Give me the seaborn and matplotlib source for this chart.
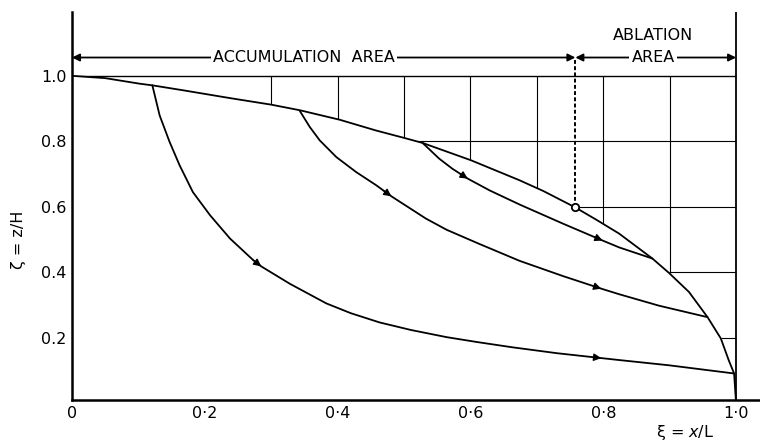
import numpy as np
import pandas as pd
import matplotlib
matplotlib.use("Agg")
import matplotlib.pyplot as plt
import seaborn as sns

# ice surface profile (xi = x/L, zeta = z/H)
surface_x = [0.0, 0.05, 0.102, 0.121, 0.167, 0.238, 0.30, 0.343, 0.403, 0.458, 0.501, 0.528,
             0.601, 0.674, 0.71, 0.758, 0.79, 0.824, 0.874, 0.899, 0.929, 0.957, 0.977,
             0.989, 0.997, 0.999, 1.0]
surface_y = [1.0, 0.993, 0.976, 0.971, 0.956, 0.932, 0.912, 0.895, 0.866, 0.833, 0.810, 0.795,
             0.742, 0.681, 0.648, 0.598, 0.56, 0.518, 0.442, 0.398, 0.340, 0.263, 0.198,
             0.131, 0.091, 0.03, 0.0]

# flow lines
flowA_x = [0.121, 0.132, 0.147, 0.162, 0.182, 0.208, 0.238, 0.273, 0.285, 0.328, 0.383,
           0.42, 0.463, 0.51, 0.564, 0.61, 0.663, 0.73, 0.797, 0.824, 0.899, 0.997]
flowA_y = [0.971, 0.879, 0.798, 0.727, 0.645, 0.574, 0.503, 0.437, 0.418, 0.365, 0.305,
           0.275, 0.247, 0.224, 0.202, 0.187, 0.171, 0.153, 0.138, 0.132, 0.116, 0.091]
flowB_x = [0.343, 0.358, 0.373, 0.398, 0.428, 0.458, 0.481, 0.533, 0.564, 0.613, 0.674,
           0.74, 0.797, 0.824, 0.884, 0.957]
flowB_y = [0.893, 0.844, 0.803, 0.752, 0.706, 0.666, 0.632, 0.564, 0.530, 0.487, 0.435,
           0.388, 0.350, 0.333, 0.298, 0.263]
flowC_x = [0.528, 0.553, 0.573, 0.596, 0.629, 0.674, 0.74, 0.799, 0.824, 0.874]
flowC_y = [0.795, 0.747, 0.716, 0.686, 0.650, 0.607, 0.548, 0.497, 0.476, 0.442]

# arrowheads along each flow line (xi positions)
arrowsA = [0.285, 0.797]
arrowsB = [0.481, 0.797]
arrowsC = [0.596, 0.799]

# equilibrium line
ela_x = 0.758
ela_y = 0.598

grid_x = [0.3, 0.4, 0.5, 0.6, 0.7, 0.8, 0.9]
grid_y = [0.2, 0.4, 0.6, 0.8]

xticks = [0.0, 0.2, 0.4, 0.6, 0.8, 1.0]
xticklabels = ["0", "0·2", "0·4", "0·6", "0·8", "1·0"]
yticks = [0.2, 0.4, 0.6, 0.8, 1.0]
yticklabels = ["0.2", "0.4", "0.6", "0.8", "1.0"]

sns.set_style("white")
plt.rcParams["font.family"] = ["DejaVu Sans"]
plt.rcParams["text.color"] = "black"
plt.rcParams["xtick.color"] = "black"
plt.rcParams["ytick.color"] = "black"

fig = plt.figure(figsize=(7.6, 4.41), dpi=100)
ax = fig.add_axes([72 / 760, 41 / 441, 688 / 760, 388 / 441])

# grid above the surface (masked below by white fill)
ax.vlines(grid_x, 0, 1.0, color="black", lw=0.8, zorder=1)
ax.hlines(grid_y, 0, 1.0, color="black", lw=0.8, zorder=1)
ax.hlines(1.0, 0, 1.0, color="black", lw=1.0, zorder=1)
ax.fill_between(surface_x, 0, surface_y, color="white", zorder=2)
ax.axvline(1.0, color="black", lw=1.3, zorder=3)

# surface and flow lines
surf = pd.DataFrame({"x": surface_x, "y": surface_y})
sns.lineplot(data=surf, x="x", y="y", sort=False, estimator=None, color="black", lw=1.3, ax=ax, zorder=4)
for fx, fy, arr in [(flowA_x, flowA_y, arrowsA), (flowB_x, flowB_y, arrowsB), (flowC_x, flowC_y, arrowsC)]:
    d = pd.DataFrame({"x": fx, "y": fy})
    sns.lineplot(data=d, x="x", y="y", sort=False, estimator=None, color="black", lw=1.3, ax=ax, zorder=4)
    for xa in arr:
        ya = np.interp(xa, fx, fy)
        xb = xa - 0.012
        yb = np.interp(xb, fx, fy)
        ax.annotate("", xy=(xa, ya), xytext=(xb, yb),
                    arrowprops=dict(arrowstyle="-|>", color="black", lw=1.0,
                                    mutation_scale=11, shrinkA=0, shrinkB=0), zorder=5)

# equilibrium line marker
ax.vlines(ela_x, ela_y, 1.05, color="black", lw=1.4, linestyles=(0, (2, 1.2)), zorder=4)
sns.scatterplot(x=[ela_x], y=[ela_y], s=28, facecolor="white", edgecolor="black",
                linewidth=1.3, ax=ax, zorder=6)

# area arrows
ay = 1.056
ax.annotate("", xy=(0.0, ay), xytext=(ela_x, ay),
            arrowprops=dict(arrowstyle="<|-|>", color="black", lw=1.3,
                            mutation_scale=11, shrinkA=0, shrinkB=0))
ax.annotate("", xy=(ela_x, ay), xytext=(1.0, ay),
            arrowprops=dict(arrowstyle="<|-|>", color="black", lw=1.3,
                            mutation_scale=11, shrinkA=0, shrinkB=0))
box = dict(facecolor="white", edgecolor="none", pad=1.5)
ax.text(0.349, ay, "ACCUMULATION  AREA", ha="center", va="center", fontsize=11.5, bbox=box)
ax.text(0.875, ay, "AREA", ha="center", va="center", fontsize=11.5, bbox=box)
ax.text(0.875, 1.124, "ABLATION", ha="center", va="center", fontsize=11.5)

ax.set_xlim(0, 1.036)
ax.set_ylim(0.01, 1.195)
ax.set_xticks(xticks)
ax.set_xticklabels(xticklabels, fontsize=11.5)
ax.set_xticks([0.1, 0.3, 0.5, 0.7, 0.9], minor=True)
ax.set_yticks(yticks)
ax.set_yticklabels(yticklabels, fontsize=11.5)
ax.tick_params(axis="both", which="both", direction="in", length=2, width=1.2, pad=4)
ax.set_xlabel("")
ax.set_ylabel("")
sns.despine(ax=ax)
for s in ["left", "bottom"]:
    ax.spines[s].set_linewidth(1.8)
    ax.spines[s].set_color("black")

fig.text(18 / 760, 1 - 240 / 441, "ζ = z/H", rotation=90, ha="center", va="center", fontsize=11.5)
fig.text(685 / 760, 1 - 432 / 441, r"ξ = $\mathit{x}$/L", ha="center", va="center", fontsize=11.5)

fig.savefig("out.png", dpi=100)
